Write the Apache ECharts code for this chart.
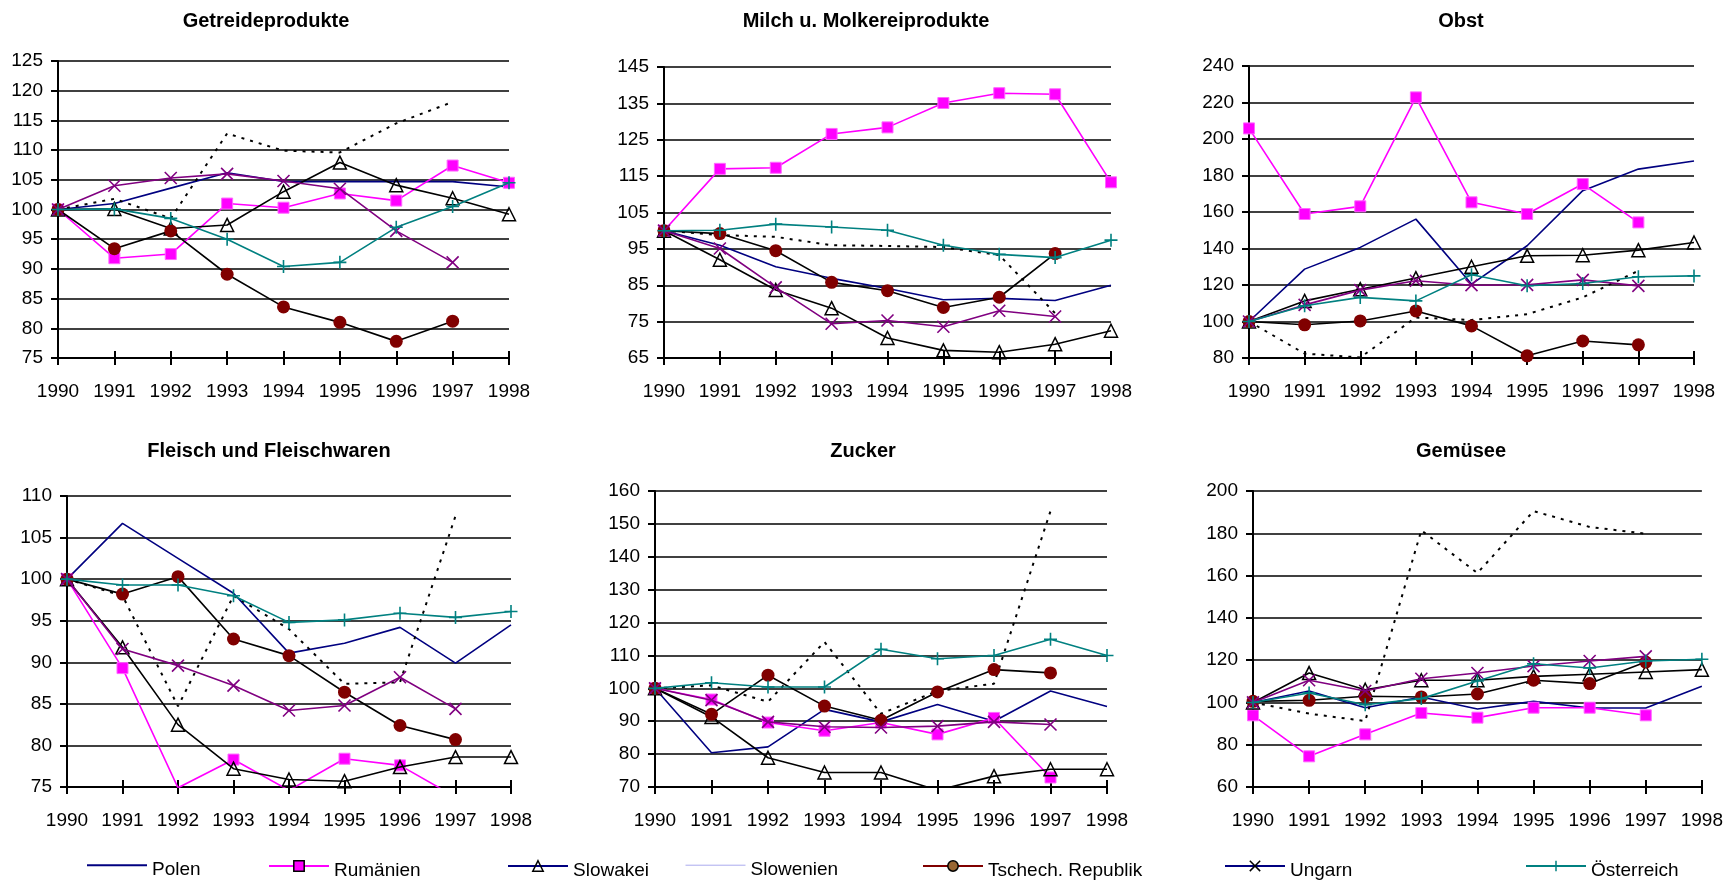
<!DOCTYPE html>
<html>
<head>
<meta charset="utf-8">
<title>Preisindizes 1990-1998</title>
<script src="https://cdn.jsdelivr.net/npm/echarts@6/dist/echarts.min.js"></script>
<style>
  html, body { margin: 0; padding: 0; background: #fff; }
  #chart { width: 1726px; height: 885px; }
</style>
</head>
<body>
<div id="chart"></div>
<script>
var years = ['1990', '1991', '1992', '1993', '1994', '1995', '1996', '1997', '1998']
var countries = ['Polen', 'Rumänien', 'Slowakei', 'Slowenien', 'Tschech. Republik', 'Ungarn', 'Österreich']

// Getreideprodukte
var getreidePolen = [100, 101, 103.6, 106.2, 104.7, 104.7, 104.7, 104.7, 103.8]
var getreideRumaenien = [100, 91.8, 92.5, 101, 100.3, 102.7, 101.5, 107.4, 104.5]
var getreideSlowakei = [100, 100.1, 96.8, 97.4, 103, 107.9, 104.1, 101.9, 99.2]
var getreideSlowenien = [100, 101.8, 98.5, 112.8, 109.9, 109.6, 114.5, 118.1, null]
var getreideTschechien = [100, 93.4, 96.4, 89.1, 83.6, 81, 77.8, 81.2, null]
var getreideUngarn = [100, 104, 105.3, 106, 104.8, 103.5, 96.4, 91.1, null]
var getreideOesterreich = [100, 100.1, 98.5, 95, 90.4, 91.1, 97, 100.5, 104.5]

// Milch u. Molkereiprodukte
var milchPolen = [100, 96, 90.1, 86.9, 84.1, 81, 81.4, 80.8, 85]
var milchRumaenien = [100, 117, 117.3, 126.6, 128.4, 135.1, 137.8, 137.5, 113.3]
var milchSlowakei = [100, 92, 83.7, 78.7, 70.5, 67.1, 66.6, 68.8, 72.5]
var milchSlowenien = [100, 98.8, 98.3, 96, 95.8, 95.5, 93.3, 77.3, null]
var milchTschechien = [100, 99.2, 94.5, 85.8, 83.5, 78.9, 81.7, 93.7, null]
var milchUngarn = [100, 95.1, 84.4, 74.4, 75.3, 73.6, 78, 76.4, null]
var milchOesterreich = [100, 100.1, 101.8, 101, 100.1, 96, 93.5, 92.6, 97.4]

// Obst
var obstPolen = [100, 128.7, 140.6, 156.1, 120.5, 141.5, 171.7, 183.5, 187.9]
var obstRumaenien = [205.8, 158.9, 163.1, 222.8, 165.3, 158.9, 175.3, 154.3, null]
var obstSlowakei = [100, 111.3, 117.7, 123.8, 130, 136, 136.3, 139.1, 143.3]
var obstSlowenien = [100, 82.4, 80.3, 102.2, 100.8, 104, 113.2, 127.8, null]
var obstTschechien = [100, 98.2, 100.3, 105.8, 97.6, 81.2, 89.3, 87.2, null]
var obstUngarn = [100, 109.1, 117.2, 122.3, 119.9, 120.1, 122.8, 119.5, null]
var obstOesterreich = [100, 108.6, 113.2, 111.3, 125.6, 119.6, 120.8, 124.5, 125]

// Fleisch und Fleischwaren
var fleischPolen = [100, 106.7, 102.5, 98.3, 91.1, 92.3, 94.2, 89.9, 94.5]
var fleischRumaenien = [100, 89.3, 74.9, 78.3, 74.6, 78.4, 77.6, 73.8, null]
var fleischSlowakei = [100, 91.8, 82.5, 77.2, 75.9, 75.7, 77.4, 78.6, 78.6]
var fleischSlowenien = [100, 98, 84.7, 98, 94, 87.4, 87.6, 107.6, null]
var fleischTschechien = [100, 98.2, 100.3, 92.8, 90.8, 86.4, 82.4, 80.7, null]
var fleischUngarn = [100, 91.6, 89.6, 87.2, 84.2, 84.8, 88.2, 84.4, null]
var fleischOesterreich = [100, 99.3, 99.3, 98, 94.8, 95.1, 95.9, 95.4, 96.1]

// Zucker
var zuckerPolen = [100, 80.4, 82.2, 93.6, 89.8, 95.1, 90, 99.2, 94.5]
var zuckerRumaenien = [100, 96.6, 89.6, 87.1, 89.6, 86, 91, 72.9, null]
var zuckerSlowakei = [100, 91.3, 78.9, 74.4, 74.4, 69, 73.3, 75.4, 75.4]
var zuckerSlowenien = [100, 100.9, 95.9, 114.1, 92.3, 99.2, 101.4, 153.9, null]
var zuckerTschechien = [100, 92.1, 104, 94.6, 90.3, 98.9, 105.7, 104.7, null]
var zuckerUngarn = [100, 96.4, 89.8, 88.3, 88.1, 88.5, 89.8, 89, null]
var zuckerOesterreich = [100, 101.7, 100.4, 100.4, 111.9, 109, 110, 114.9, 110]

// Gemüsee
var gemuesePolen = [100, 105.4, 97.5, 102.6, 96.9, 100.5, 97.4, 97.4, 107.6]
var gemueseRumaenien = [93.9, 74.5, 84.9, 95, 92.8, 97.5, 97.5, 93.9, null]
var gemueseSlowakei = [100, 113.9, 106, 110.5, 110.5, 112.3, 113.3, 114.4, 115.5]
var gemueseSlowenien = [100, 94.7, 91.2, 181.4, 161.2, 190.5, 183, 179.8, null]
var gemueseTschechien = [100.5, 101, 102.9, 102.6, 104, 110.5, 108.9, 119.1, null]
var gemueseUngarn = [100, 110.5, 105.4, 111.2, 113.9, 117.2, 119.6, 121.8, null]
var gemueseOesterreich = [100, 104.5, 98.9, 101.8, 110.1, 118.3, 116.3, 119.6, 120.4]

// y-Achsen: min, max, Schritt
var yMin = [75, 65, 80, 75, 70, 60]
var yMax = [125, 145, 240, 110, 160, 200]
var yStep = [5, 10, 20, 5, 10, 20]

var panels = [
  { title: 'Getreideprodukte', data: [getreidePolen, getreideRumaenien, getreideSlowakei, getreideSlowenien, getreideTschechien, getreideUngarn, getreideOesterreich] },
  { title: 'Milch u. Molkereiprodukte', data: [milchPolen, milchRumaenien, milchSlowakei, milchSlowenien, milchTschechien, milchUngarn, milchOesterreich] },
  { title: 'Obst', data: [obstPolen, obstRumaenien, obstSlowakei, obstSlowenien, obstTschechien, obstUngarn, obstOesterreich] },
  { title: 'Fleisch und Fleischwaren', data: [fleischPolen, fleischRumaenien, fleischSlowakei, fleischSlowenien, fleischTschechien, fleischUngarn, fleischOesterreich] },
  { title: 'Zucker', data: [zuckerPolen, zuckerRumaenien, zuckerSlowakei, zuckerSlowenien, zuckerTschechien, zuckerUngarn, zuckerOesterreich] },
  { title: 'Gemüsee', data: [gemuesePolen, gemueseRumaenien, gemueseSlowakei, gemueseSlowenien, gemueseTschechien, gemueseUngarn, gemueseOesterreich] }
]

// Lage der Diagrammflächen
var grids = [
  { left: 58, top: 61, width: 451, height: 297, titleX: 266, titleY: 11 },
  { left: 664, top: 67, width: 447, height: 291, titleX: 866, titleY: 11 },
  { left: 1249, top: 66, width: 445, height: 292, titleX: 1461, titleY: 11 },
  { left: 67, top: 496, width: 444, height: 291, titleX: 269, titleY: 441 },
  { left: 655, top: 491, width: 452, height: 296, titleX: 863, titleY: 441 },
  { left: 1253, top: 491, width: 450, height: 296, titleX: 1461, titleY: 441 }
]

var FONT = 'Liberation Sans, Arial, sans-serif'
var crossPath = 'path://M0,0L10,10M10,0L0,10'
var plusPath = 'path://M5,0L5,10M0,5L10,5'

var styles = [
  { symbol: 'none', line: { color: '#000080', width: 1.6 } },
  { symbol: 'rect', size: 11, line: { color: '#ff00ff', width: 1.6 }, item: { color: '#ff00ff', borderColor: '#ff66ff', borderWidth: 1 } },
  { symbol: 'triangle', size: 13, line: { color: '#000000', width: 1.6 }, item: { color: 'rgba(0,0,0,0)', borderColor: '#000000', borderWidth: 1.5 } },
  { symbol: 'none', line: { color: '#000000', width: 2, type: [3, 6] } },
  { symbol: 'circle', size: 13, line: { color: '#000000', width: 1.6 }, item: { color: '#800000', borderColor: '#800000', borderWidth: 0 } },
  { symbol: crossPath, size: 12, line: { color: '#800080', width: 1.6 }, item: { color: 'rgba(0,0,0,0)', borderColor: '#800080', borderWidth: 1.6 } },
  { symbol: plusPath, size: 13, line: { color: '#008080', width: 1.6 }, item: { color: 'rgba(0,0,0,0)', borderColor: '#008080', borderWidth: 1.6 } }
]

// Legende (abweichende Darstellung wie im Original)
var legendX = [86, 268, 507, 685, 922, 1224, 1525]
var legendItems = [
  { name: 'Polen', lineStyle: { color: '#000080', width: 2 }, itemStyle: { color: 'rgba(0,0,0,0)', borderWidth: 0 } },
  { name: 'Rumänien', lineStyle: { color: '#ff00ff', width: 2 }, itemStyle: { color: '#ff00ff', borderColor: '#000000', borderWidth: 1.5 } },
  { name: 'Slowakei', lineStyle: { color: '#000080', width: 2 }, itemStyle: { color: 'rgba(0,0,0,0)', borderColor: '#000000', borderWidth: 1.5 } },
  { name: 'Slowenien', lineStyle: { color: '#aaaaee', width: 1, type: 'solid' }, itemStyle: { color: 'rgba(0,0,0,0)', borderWidth: 0 } },
  { name: 'Tschech. Republik', lineStyle: { color: '#800000', width: 2 }, itemStyle: { color: '#996633', borderColor: '#000000', borderWidth: 1.5 } },
  { name: 'Ungarn', lineStyle: { color: '#000080', width: 2 }, itemStyle: { color: 'rgba(0,0,0,0)', borderColor: '#000000', borderWidth: 1.5 } },
  { name: 'Österreich', lineStyle: { color: '#008080', width: 2 }, itemStyle: { color: 'rgba(0,0,0,0)', borderColor: '#008080', borderWidth: 1.5 } }
]

var option = {
  animation: false,
  backgroundColor: '#ffffff',
  title: [],
  grid: [],
  xAxis: [],
  yAxis: [],
  legend: [],
  series: []
}

panels.forEach(function (p, i) {
  var g = grids[i]
  option.title.push({
    text: p.title,
    left: g.titleX,
    top: g.titleY,
    textAlign: 'center',
    padding: 0,
    textStyle: { fontFamily: FONT, fontSize: 20, fontWeight: 'bold', color: '#000' }
  })
  option.grid.push({ left: g.left, top: g.top, width: g.width, height: g.height, containLabel: false })
  // Hauptachse mit Beschriftung, Striche nach außen
  option.xAxis.push({
    type: 'category',
    gridIndex: i,
    data: years,
    boundaryGap: false,
    axisLine: { show: true, lineStyle: { color: '#000', width: 2 } },
    axisTick: { show: true, length: 7, lineStyle: { color: '#000', width: 2 } },
    axisLabel: { color: '#000', fontFamily: FONT, fontSize: 19, margin: 24 },
    splitLine: { show: false }
  })
  // zweite Achse nur für die Striche nach innen
  option.xAxis.push({
    type: 'category',
    gridIndex: i,
    position: 'bottom',
    data: years,
    boundaryGap: false,
    axisLine: { show: false },
    axisTick: { show: true, inside: true, length: 7, lineStyle: { color: '#000', width: 2 } },
    axisLabel: { show: false },
    splitLine: { show: false }
  })
  option.yAxis.push({
    type: 'value',
    gridIndex: i,
    min: yMin[i],
    max: yMax[i],
    interval: yStep[i],
    axisLine: { show: true, lineStyle: { color: '#000', width: 2 } },
    axisTick: { show: true, length: 7, lineStyle: { color: '#000', width: 2 } },
    axisLabel: { color: '#000', fontFamily: FONT, fontSize: 19, margin: 15 },
    splitLine: { show: true, lineStyle: { color: '#000', width: 1.6 } }
  })
  p.data.forEach(function (values, k) {
    var st = styles[k]
    option.series.push({
      name: countries[k],
      type: 'line',
      xAxisIndex: i * 2,
      yAxisIndex: i,
      data: values,
      symbol: st.symbol,
      symbolSize: st.size || 0,
      showSymbol: st.symbol !== 'none',
      lineStyle: st.line,
      itemStyle: st.item || { color: st.line.color },
      connectNulls: false,
      z: 2 + k
    })
  })
})

legendItems.forEach(function (item, k) {
  option.legend.push({
    left: legendX[k],
    top: 860,
    itemWidth: 60,
    itemHeight: 13,
    itemGap: 0,
    padding: 0,
    selectedMode: false,
    formatter: '{t|{name}}',
    textStyle: {
      fontFamily: FONT,
      fontSize: 19,
      color: '#000',
      rich: { t: { fontFamily: FONT, fontSize: 19, color: '#000', padding: [10, 0, 0, 0] } }
    },
    data: [item]
  })
})

var chart = echarts.init(document.getElementById('chart'))
chart.setOption(option)
</script>
</body>
</html>
